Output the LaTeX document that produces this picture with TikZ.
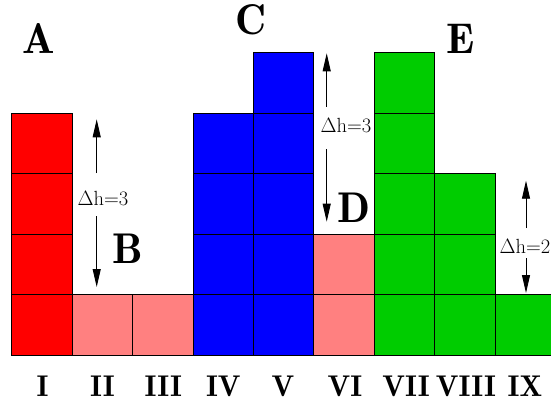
\documentclass[tikz,border=0pt]{standalone}
\usetikzlibrary{arrows.meta}
\definecolor{cred}{HTML}{FF0000}
\definecolor{cpink}{HTML}{FF8080}
\definecolor{cblue}{HTML}{0000FF}
\definecolor{cgreen}{HTML}{00CC00}
\begin{document}
\begin{tikzpicture}[x=1pt,y=-1pt,
  cell/.style={draw=black,line width=0.8pt},
  lbl/.style={font=\fontsize{43}{43}\fontseries{b}\selectfont, anchor=base, inner sep=0pt},
  num/.style={font=\fontsize{30}{30}\fontseries{b}\selectfont, anchor=base, inner sep=0pt},
  dh/.style={font=\fontsize{20.5}{20.5}\selectfont, inner sep=0pt},
  harrow/.style={-{Triangle[length=18pt,width=8pt]}, line width=0.9pt}]
\useasboundingbox (0,0) rectangle (551,405);
\clip (0,0) rectangle (551,405);
\fill[white] (0,0) rectangle (551,405);
\foreach \c/\n/\col in {0/4/cred,1/1/cpink,2/1/cpink,3/4/cblue,4/5/cblue,5/2/cpink,6/5/cgreen,7/3/cgreen,8/1/cgreen} {
  \foreach \r in {1,...,\n} {
    \draw[cell, fill=\col] ({11.6+\c*60.45}, {355.3-(\r-1)*60.6}) rectangle ++(60.45,-60.6);
  }
}
% letters
\node[lbl] (A) at (38.7,53) {A};
\node[lbl] (C) at (251,34.5) {C};
\node[lbl] (E) at (461,53) {E};
\node[lbl] (B) at (128,263) {B};
\node[lbl] (D) at (353.5,222) {D};
% numerals
\node[num] (n1) at (42.5,396.5) {I};
\node[num] (n2) at (102.5,396.5) {II};
\node[num] (n3) at (163.3,396.5) {III};
\node[num] (n4) at (223.3,396.5) {IV};
\node[num] (n5) at (283,396.5) {V};
\node[num] (n6) at (345,396.5) {VI};
\node[num] (n7) at (406,396.5) {VII};
\node[num] (n8) at (466,396.5) {VIII};
\node[num] (n9) at (525,396.5) {IX};
% delta h labels
\node[dh, anchor=base west] (t1) at (77.5,205) {$\Delta$h=3};
\node[dh, anchor=base west] (t2) at (320.5,132) {$\Delta$h=3};
\node[dh, anchor=base east] (t3) at (550.5,253) {$\Delta$h=2};
% arrows
\coordinate (a1u) at (96.7,173);
\coordinate (a1t) at (96.7,119.3);
\coordinate (a1l) at (96.7,216);
\coordinate (a1b) at (96.7,287);
\coordinate (a2u) at (326.7,106.7);
\coordinate (a2t) at (326.7,53.3);
\coordinate (a2l) at (326.7,149);
\coordinate (a2b) at (326.7,221.7);
\coordinate (a3u) at (526,228);
\coordinate (a3t) at (526,180.7);
\coordinate (a3l) at (526,258);
\coordinate (a3b) at (526,293);
\draw[harrow] (a1u) -- (a1t);
\draw[harrow] (a1l) -- (a1b);
\draw[harrow] (a2u) -- (a2t);
\draw[harrow] (a2l) -- (a2b);
\draw[harrow] (a3u) -- (a3t);
\draw[harrow] (a3l) -- (a3b);
\end{tikzpicture}
\end{document}
